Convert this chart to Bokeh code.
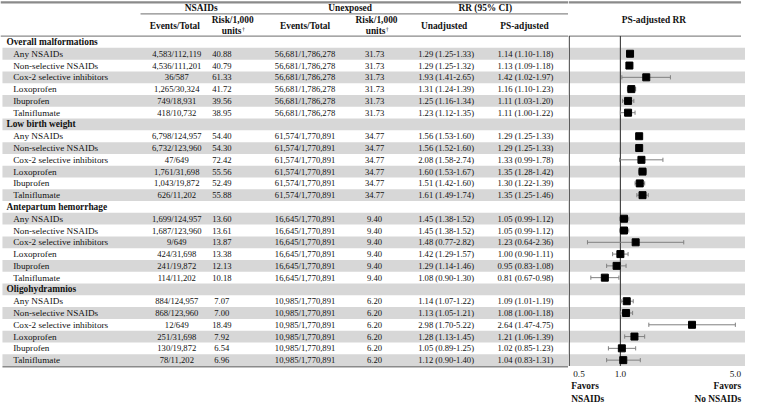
from bokeh.plotting import figure
from bokeh.layouts import row
from bokeh.models import Range1d
from bokeh.core.properties import value
from bokeh.embed import file_html
from bokeh.resources import INLINE

# ---------------- data ----------------
outcomes = ["Overall malformations", "Low birth weight", "Antepartum hemorrhage", "Oligohydramnios"]
exposures = ["Any NSAIDs", "Non-selective NSAIDs", "Cox-2 selective inhibitors",
             "Loxoprofen", "Ibuprofen", "Talniflumate"]

nsaid_events = [
    "4,583/112,119", "4,536/111,201", "36/587", "1,265/30,324", "749/18,931", "418/10,732",
    "6,798/124,957", "6,732/123,960", "47/649", "1,761/31,698", "1,043/19,872", "626/11,202",
    "1,699/124,957", "1,687/123,960", "9/649", "424/31,698", "241/19,872", "114/11,202",
    "884/124,957", "868/123,960", "12/649", "251/31,698", "130/19,872", "78/11,202",
]
nsaid_risk = [
    40.88, 40.79, 61.33, 41.72, 39.56, 38.95,
    54.40, 54.30, 72.42, 55.56, 52.49, 55.88,
    13.60, 13.61, 13.87, 13.38, 12.13, 10.18,
    7.07, 7.00, 18.49, 7.92, 6.54, 6.96,
]
unexp_events = ["56,681/1,786,278", "61,574/1,770,891", "16,645/1,770,891", "10,985/1,770,891"]
unexp_risk = [31.73, 34.77, 9.40, 6.20]

rr_unadj = [1.29, 1.29, 1.93, 1.31, 1.25, 1.23,
            1.56, 1.56, 2.08, 1.60, 1.51, 1.61,
            1.45, 1.45, 1.48, 1.42, 1.29, 1.08,
            1.14, 1.13, 2.98, 1.28, 1.05, 1.12]
rr_unadj_lo = [1.25, 1.25, 1.41, 1.24, 1.16, 1.12,
               1.53, 1.52, 1.58, 1.53, 1.42, 1.49,
               1.38, 1.38, 0.77, 1.29, 1.14, 0.90,
               1.07, 1.05, 1.70, 1.13, 0.89, 0.90]
rr_unadj_hi = [1.33, 1.32, 2.65, 1.39, 1.34, 1.35,
               1.60, 1.60, 2.74, 1.67, 1.60, 1.74,
               1.52, 1.52, 2.82, 1.57, 1.46, 1.30,
               1.22, 1.21, 5.22, 1.45, 1.25, 1.40]
rr_ps = [1.14, 1.13, 1.42, 1.16, 1.11, 1.11,
         1.29, 1.29, 1.33, 1.35, 1.30, 1.35,
         1.05, 1.05, 1.23, 1.00, 0.95, 0.81,
         1.09, 1.08, 2.64, 1.21, 1.02, 1.04]
rr_ps_lo = [1.10, 1.09, 1.02, 1.10, 1.03, 1.00,
            1.25, 1.25, 0.99, 1.28, 1.22, 1.25,
            0.99, 0.99, 0.64, 0.90, 0.83, 0.67,
            1.01, 1.00, 1.47, 1.06, 0.85, 0.83]
rr_ps_hi = [1.18, 1.18, 1.97, 1.23, 1.20, 1.22,
            1.33, 1.33, 1.78, 1.42, 1.39, 1.46,
            1.12, 1.12, 2.36, 1.11, 1.08, 0.98,
            1.19, 1.18, 4.75, 1.39, 1.23, 1.31]

tick_values = [0.5, 1.0, 5.0]
tick_labels = ["0.5", "1.0", "5.0"]

# ---------------- layout helpers ----------------
FONT = value("Liberation Serif")
ROW_TOP = 37.0
ROW_H = 12.25
n_rows = len(outcomes) * (len(exposures) + 1)
centers = [ROW_TOP + ROW_H * (i + 0.5) for i in range(n_rows)]
ROW_BOTTOM = ROW_TOP + ROW_H * n_rows

hdr_y, hdr_label = [], []
d_y, d_label, d_ev, d_risk, d_uev, d_urisk, d_un, d_ps = [], [], [], [], [], [], [], []
f_y, f_rr, f_lo, f_hi = [], [], [], []
r = 0
for k, oc in enumerate(outcomes):
    hdr_y.append(centers[r]); hdr_label.append(oc); r += 1
    for j, ex in enumerate(exposures):
        idx = k * len(exposures) + j
        y = centers[r]; r += 1
        d_y.append(y)
        d_label.append(ex)
        d_ev.append(nsaid_events[idx])
        d_risk.append(f"{nsaid_risk[idx]:.2f}")
        d_uev.append(unexp_events[k])
        d_urisk.append(f"{unexp_risk[k]:.2f}")
        d_un.append(f"{rr_unadj[idx]:.2f} ({rr_unadj_lo[idx]:.2f}-{rr_unadj_hi[idx]:.2f})")
        d_ps.append(f"{rr_ps[idx]:.2f} ({rr_ps_lo[idx]:.2f}-{rr_ps_hi[idx]:.2f})")
        f_y.append(y); f_rr.append(rr_ps[idx]); f_lo.append(rr_ps_lo[idx]); f_hi.append(rr_ps_hi[idx])

stripe_top = [ROW_TOP + ROW_H * i for i in range(n_rows) if i % 2 == 1]
stripe_bot = [t + ROW_H for t in stripe_top]

STRIPE = "#d7d7d7"
RULE = "#8a8a8a"
TXT = "#111111"
NUM_SIZE = "8.6px"
LAB_SIZE = "9.2px"
BOLD_SIZE = "9.4px"


def base(width, **kw):
    p = figure(width=width, height=404, y_range=Range1d(420, 0),
               output_backend="svg", toolbar_location=None, min_border=0,
               x_axis_location=None, y_axis_location=None, **kw)
    p.grid.visible = False
    p.outline_line_color = None
    p.background_fill_color = "white"
    return p


# ---------------- table figure ----------------
p1 = base(568, x_range=Range1d(0, 580))
p1.quad(left=2, right=580, top=stripe_top, bottom=stripe_bot, fill_color=STRIPE, line_color=None)
p1.segment(x0=[0], x1=[580], y0=[2], y1=[2], line_color=RULE, line_width=2.2)
p1.segment(x0=[143], x1=[580], y0=[14], y1=[14], line_color=RULE, line_width=1.3)
p1.segment(x0=[0], x1=[580], y0=[ROW_TOP], y1=[ROW_TOP], line_color=RULE, line_width=1.3)
p1.segment(x0=[2], x1=[580], y0=[ROW_BOTTOM + 0.8], y1=[ROW_BOTTOM + 0.8], line_color=RULE, line_width=1.6)


def txt(p, x, y, t, size, bold=False, align="center", **kw):
    p.text(x=x, y=y, text=t, text_font=FONT, text_font_size=size,
           text_font_style="bold" if bold else "normal", text_align=align,
           text_baseline="middle", text_color=TXT, **kw)


# group headers
txt(p1, [205, 357, 495], [7.5, 7.5, 7.5], ["NSAIDs", "Unexposed", "RR (95% CI)"], BOLD_SIZE, bold=True)
txt(p1, [178, 311, 453, 535], [26.5] * 4, ["Events/Total", "Events/Total", "Unadjusted", "PS-adjusted"], BOLD_SIZE, bold=True)
txt(p1, [237, 384], [20, 20], ["Risk/1,000", "Risk/1,000"], BOLD_SIZE, bold=True)
txt(p1, [236, 383], [32, 32], ["units", "units"], BOLD_SIZE, bold=True)
txt(p1, [246.5, 393.5], [29.5, 29.5], ["\u2020", "\u2020"], "6px", align="left")

# section headers and rows
txt(p1, [6] * len(hdr_y), hdr_y, hdr_label, BOLD_SIZE, bold=True, align="left")
txt(p1, [13] * len(d_y), d_y, d_label, LAB_SIZE, align="left")
txt(p1, [180] * len(d_y), d_y, d_ev, NUM_SIZE)
txt(p1, [226] * len(d_y), d_y, d_risk, NUM_SIZE)
txt(p1, [311] * len(d_y), d_y, d_uev, NUM_SIZE)
txt(p1, [382] * len(d_y), d_y, d_urisk, NUM_SIZE)
txt(p1, [455] * len(d_y), d_y, d_un, NUM_SIZE)
txt(p1, [536] * len(d_y), d_y, d_ps, NUM_SIZE)

# ---------------- forest figure ----------------
XL, XR = 0.495, 5.45
p2 = base(177, x_range=Range1d(XL, XR), x_axis_type="log")
p2.quad(left=XL, right=XR, top=stripe_top, bottom=stripe_bot, fill_color=STRIPE, line_color=None)
p2.segment(x0=[XL], x1=[5.13], y0=[2], y1=[2], line_color=RULE, line_width=2.2)
p2.segment(x0=[XL], x1=[5.13], y0=[ROW_TOP], y1=[ROW_TOP], line_color=RULE, line_width=1.3)
p2.segment(x0=tick_values[:2], x1=tick_values[:2], y0=[ROW_TOP] * 2, y1=[ROW_BOTTOM] * 2,
           line_color="#3a3a3a", line_width=1.1)

txt(p2, [1.6], [20], ["PS-adjusted  RR"], BOLD_SIZE, bold=True)

# CI lines with caps
p2.segment(x0=f_lo, x1=f_hi, y0=f_y, y1=f_y, line_color="#808080", line_width=1)
p2.segment(x0=f_lo, x1=f_lo, y0=[y - 2.2 for y in f_y], y1=[y + 2.2 for y in f_y], line_color="#808080", line_width=1)
p2.segment(x0=f_hi, x1=f_hi, y0=[y - 2.2 for y in f_y], y1=[y + 2.2 for y in f_y], line_color="#808080", line_width=1)
p2.scatter(x=f_rr, y=f_y, marker="square", size=7, fill_color="black", line_color="black")

# tick labels
txt(p2, [tick_values[0]], [388], [tick_labels[0]], "9.2px", align="left", x_offset=4)
txt(p2, [tick_values[1]], [388], [tick_labels[1]], "9.2px")
txt(p2, [tick_values[2]], [388], [tick_labels[2]], "9.2px", align="right", x_offset=2)
txt(p2, [tick_values[0], tick_values[0]], [401, 414], ["Favors", "NSAIDs"], BOLD_SIZE, bold=True, align="left", x_offset=2)
txt(p2, [tick_values[2], tick_values[2]], [401, 414], ["Favors", "No NSAIDs"], BOLD_SIZE, bold=True, align="right", x_offset=2)

layout = row(p1, p2, spacing=0)
open("out.html", "w").write(file_html(layout, INLINE))
